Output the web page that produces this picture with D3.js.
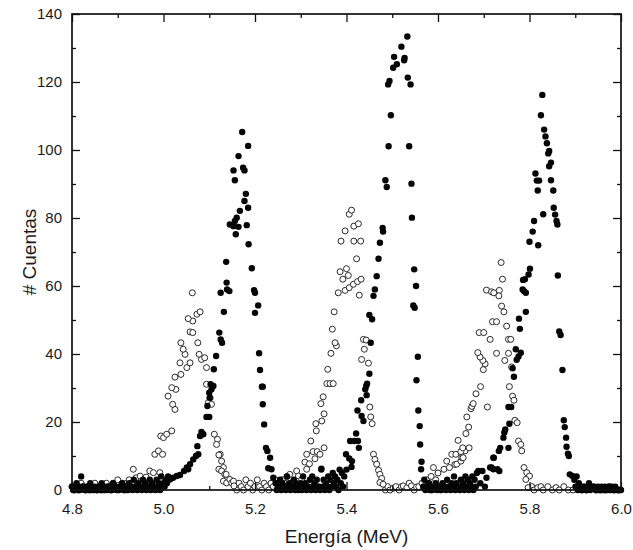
<!DOCTYPE html>
<html>
<head>
<meta charset="utf-8">
<script src="https://cdn.jsdelivr.net/npm/d3@7"></script>
<style>
  body { margin: 0; background: #fff; }
  svg { font-family: "Liberation Sans", Arial, sans-serif; }
  .tick text { font-size: 15px; fill: #1a1a1a; }
  .tick line { stroke: #111; stroke-width: 1.3; }
</style>
</head>
<body>
<svg width="633" height="550"></svg>
<script>
"use strict";

// energies (MeV) and counts
var filledBaseline = [
  [4.800,1],[4.805,0],[4.810,2],[4.815,1],[4.820,4],[4.825,1],[4.830,0],[4.835,1],[4.840,2],[4.845,0],
  [4.850,1],[4.855,0],[4.860,1],[4.865,2],[4.870,0],[4.875,1],[4.880,1],[4.885,0],[4.890,2],[4.895,1],
  [4.900,0],[4.905,1],[4.910,2],[4.915,1],[4.920,0],[4.925,2],[4.930,1],[4.935,3],[4.940,1],[4.945,2],
  [4.950,1],[4.955,3],[4.960,2],[4.965,1],[4.970,3],[4.975,2],[4.980,1],[4.985,3],[4.990,2],[4.995,4],
  [5.000,2],[5.005,3],[5.010,4],
  [5.245,2],[5.250,1],[5.255,3],[5.260,2],[5.265,1],[5.270,4],[5.275,2],[5.280,1],[5.285,3],[5.290,2],
  [5.295,0],[5.300,2],[5.305,4],[5.310,2],[5.315,1],[5.320,3],[5.325,4],[5.330,2],[5.335,3],[5.340,1],
  [5.345,6],[5.350,3],[5.355,2],[5.360,4],[5.365,3],[5.370,5],[5.375,4],[5.380,3],[5.385,6],[5.390,5],
  [5.395,4],[5.400,6],
  [5.570,3],[5.575,1],[5.580,2],[5.585,0],[5.590,1],[5.595,2],[5.600,1],[5.605,0],[5.610,2],[5.615,1],
  [5.620,3],[5.625,1],[5.630,2],[5.635,4],[5.640,2],[5.645,1],[5.650,3],[5.655,2],[5.660,4],[5.665,3],
  [5.670,2],[5.675,4],[5.680,3],[5.685,5],
  [5.898,3],[5.903,4],[5.908,2],[5.911,1],[5.915,0],[5.920,1],[5.925,0],[5.930,2],[5.935,1],[5.939,1],
  [5.945,0],[5.950,1],[5.955,0],[5.960,0],[5.965,1],[5.970,0],[5.975,0],[5.980,1],[5.985,0],[5.990,0],
  [5.995,0],[6.000,0]
];

// the low channels in between, which make the dark band along the axis
var filledFloor = [
  [4.8025,0],[4.8075,1],[4.8125,0],[4.8175,0],[4.8225,1],[4.8275,0],[4.8325,1],[4.8375,0],[4.8425,1],[4.8475,0],
  [4.8525,0],[4.8575,1],[4.8625,0],[4.8675,1],[4.8725,0],[4.8775,0],[4.8825,1],[4.8875,0],[4.8925,1],[4.8975,0],
  [4.9025,0],[4.9075,1],[4.9125,0],[4.9175,1],[4.9225,0],[4.9275,1],[4.9325,0],[4.9375,1],[4.9425,0],[4.9475,1],
  [4.9525,0],[4.9575,1],[4.9625,0],[4.9675,1],[4.9725,0],[4.9775,1],[4.9825,0],[4.9875,1],[4.9925,0],[4.9975,1],
  [5.0025,1],[5.0075,2],
  [5.2475,0],[5.2525,1],[5.2575,0],[5.2625,1],[5.2675,0],[5.2725,1],[5.2775,0],[5.2825,1],[5.2875,0],[5.2925,1],
  [5.2975,1],[5.3025,0],[5.3075,1],[5.3125,0],[5.3175,1],[5.3225,0],[5.3275,1],[5.3325,0],[5.3375,1],[5.3425,0],
  [5.3475,1],[5.3525,0],[5.3575,1],[5.3625,0],[5.3675,1],[5.3725,2],[5.3775,1],[5.3825,0],[5.3875,2],[5.3925,1],
  [5.5675,1],[5.5725,0],[5.5775,1],[5.5825,0],[5.5875,0],[5.5925,1],[5.5975,0],[5.6025,1],[5.6075,0],[5.6125,1],
  [5.6175,0],[5.6225,1],[5.6275,0],[5.6325,1],[5.6375,0],[5.6425,1],[5.6475,0],[5.6525,1],[5.6575,0],[5.6625,1],
  [5.6675,0],[5.6725,1],[5.6775,0],[5.6825,1],[5.6925,2],[5.7025,1],
  [5.9005,1],[5.9055,0],[5.9125,0],[5.9175,1],[5.9225,0],[5.9275,1],[5.9325,0],[5.9425,1],[5.9475,0],[5.9525,0],
  [5.9575,1],[5.9625,0],[5.9675,0],[5.9725,1],[5.9775,0],[5.9825,0],[5.9875,1],[5.9925,0],[5.9975,0]
];

var filledPeaks = [
  [5.014,3.1],[5.021,3.6],[5.029,4.1],[5.036,4.4],[5.045,5.6],[5.051,6.6],[5.054,6.1],[5.058,7.6],
  [5.065,9.0],[5.071,10.0],[5.074,12.9],[5.076,10.5],[5.080,15.9],[5.083,17.1],[5.087,16.4],[5.094,21.5],
  [5.096,24.7],[5.100,21.5],[5.100,28.6],[5.101,27.1],[5.103,31.1],[5.105,29.6],[5.109,30.6],[5.110,35.5],
  [5.115,39.4],[5.122,46.3],[5.125,44.3],[5.128,43.3],[5.132,52.4],[5.125,58.0],[5.138,61.0],[5.139,59.0],
  [5.144,58.5],[5.137,67.1],[5.158,75.2],[5.145,78.1],[5.153,77.6],[5.164,77.4],[5.182,77.9],[5.156,79.1],
  [5.160,80.1],[5.167,82.1],[5.185,83.0],[5.177,85.0],[5.180,87.1],[5.186,72.3],[5.156,91.1],[5.153,94.0],
  [5.174,94.8],[5.177,94.0],[5.164,98.2],[5.185,101.2],[5.172,105.3],
  [5.193,65.2],[5.198,58.8],[5.200,58.0],[5.207,54.3],[5.200,52.1],[5.209,40.2],[5.211,35.3],[5.215,30.4],
  [5.217,30.4],[5.217,25.2],[5.220,19.3],[5.224,12.4],[5.227,11.5],[5.229,6.4],[5.233,9.5],[5.236,6.1],
  [5.240,3.6],
  [5.345,6.3],[5.399,10.5],[5.406,9.3],[5.412,8.5],[5.411,6.8],[5.408,14.4],[5.417,14.4],[5.425,14.4],
  [5.421,16.6],[5.427,12.4],[5.424,23.4],[5.433,21.8],[5.437,20.3],[5.432,26.4],[5.441,29.6],[5.443,30.6],
  [5.444,27.9],[5.445,31.3],[5.450,34.2],[5.453,43.3],[5.450,51.5],[5.456,50.2],[5.459,57.1],[5.462,59.0],
  [5.466,62.9],[5.470,68.0],[5.473,72.7],[5.480,76.0],[5.479,77.1],[5.488,89.1],[5.485,91.1],[5.492,101.1],
  [5.497,110.2],[5.491,119.3],[5.494,120.3],[5.502,124.2],[5.510,125.2],[5.504,127.4],[5.520,130.4],[5.533,133.4],
  [5.527,127.1],[5.526,126.4],[5.534,121.3],[5.540,119.3],[5.537,101.1],[5.542,90.1],[5.543,80.1],[5.548,64.9],
  [5.552,60.0],[5.546,54.3],[5.549,53.6],[5.556,39.2],[5.553,32.3],[5.557,23.4],[5.560,18.8],[5.561,13.4],
  [5.564,8.3],[5.563,6.1],
  [5.688,5.6],[5.697,5.6],[5.706,3.6],[5.714,6.6],[5.717,6.6],[5.721,6.1],[5.721,9.5],[5.730,6.1],
  [5.734,5.6],[5.722,9.5],[5.733,11.5],[5.736,12.4],[5.754,12.4],[5.743,15.4],[5.745,16.9],[5.747,17.8],
  [5.756,19.5],[5.754,24.4],[5.760,24.4],[5.763,35.8],[5.766,33.3],[5.770,41.4],[5.772,38.3],[5.776,39.3],
  [5.781,40.4],[5.779,47.4],[5.777,50.4],[5.792,52.4],[5.785,59.0],[5.788,58.5],[5.792,58.0],[5.786,61.8],
  [5.790,62.0],[5.798,63.4],[5.801,65.1],[5.819,72.0],[5.800,73.0],[5.807,76.0],[5.810,79.1],[5.830,81.1],
  [5.818,88.1],[5.816,91.0],[5.821,91.0],[5.813,93.1],[5.825,110.2],[5.828,116.2],[5.832,106.0],[5.835,104.0],
  [5.838,102.0],[5.843,99.7],[5.841,99.0],[5.847,96.3],[5.843,95.2],[5.847,91.1],[5.852,88.1],[5.853,83.0],
  [5.856,81.0],[5.859,79.1],[5.861,78.1],[5.862,63.1],[5.865,46.6],[5.868,45.6],[5.872,35.3],[5.875,20.5],
  [5.877,18.5],[5.880,15.4],[5.881,12.7],[5.884,10.7],[5.886,10.0],[5.888,4.6],[5.894,4.1]
];

var openBaseline = [
  [4.800,1],[4.805,0],[4.810,1],[4.815,0],[4.820,2],[4.825,1],[4.830,0],[4.835,1],[4.840,0],[4.845,1],
  [4.850,2],[4.855,0],[4.860,1],[4.865,0],[4.870,1],[4.875,2],[4.880,1],[4.885,0],[4.890,2],[4.895,1],
  [4.900,3],[4.905,1],[4.910,2],[4.915,0],[4.920,2],[4.925,3],[4.930,2],
  [5.160,0],[5.165,2],[5.170,1],[5.175,0],[5.180,3],[5.185,1],[5.190,2],[5.195,0],[5.200,1],[5.205,3],
  [5.210,1],[5.215,0],[5.220,2],[5.225,1],[5.230,0],[5.235,2],[5.240,1],[5.245,3],[5.250,2],[5.255,1],
  [5.260,3],[5.265,2],[5.270,4],[5.276,4.6],[5.284,2.6],[5.291,5.6],[5.295,4.1],[5.302,3.1],
  [5.485,0],[5.490,1],[5.495,0],[5.502,0.5],[5.508,1],[5.515,0],[5.520,1],[5.524,1.2],[5.532,0.7],[5.537,2],
  [5.542,1.2],[5.548,0],[5.553,0.9],[5.558,1],[5.565,2],[5.570,1],[5.575,3],[5.580,2],[5.585,4],[5.590,6.6],
  [5.595,3],[5.600,5],
  [5.805,1],[5.810,0],[5.818,0.7],[5.825,1],[5.830,0],[5.840,1],[5.850,0],[5.858,0.7],[5.865,0],[5.875,1],
  [5.885,0],[5.895,0],[5.905,1],[5.915,0],[5.925,0],[5.935,1],[5.945,0],[5.955,0],[5.965,0],[5.975,1],
  [5.985,0],[5.995,0]
];

var openPeaks = [
  [4.934,6.1],[4.940,3.6],[4.949,4.1],[4.962,3.8],[4.970,5.6],[4.978,5.1],[4.981,10.5],[4.989,11.5],
  [4.992,5.1],[4.998,10.5],[4.994,15.9],[5.000,15.4],[5.007,16.4],[5.018,17.4],[5.025,23.7],[5.020,25.2],
  [5.010,27.6],[5.027,29.6],[5.018,30.1],[5.025,33.2],[5.038,34.0],[5.036,37.4],[5.051,36.0],[5.058,37.4],
  [5.047,39.9],[5.043,41.4],[5.038,43.3],[5.075,43.3],[5.058,46.5],[5.064,46.3],[5.064,49.7],[5.054,50.4],
  [5.073,51.7],[5.080,52.4],[5.063,58.0],[5.078,39.9],[5.083,38.4],[5.090,38.9],[5.094,36.0],[5.094,31.1],
  [5.102,27.1],[5.098,25.7],[5.105,25.2],[5.111,16.4],[5.118,14.9],[5.116,13.4],[5.124,10.5],[5.121,10.3],
  [5.127,8.5],[5.131,6.6],[5.121,6.1],[5.127,5.6],[5.134,4.6],[5.137,4.6],[5.131,2.6],[5.138,2.1],
  [5.145,3.1],[5.149,2.1],[5.153,2.6],[5.154,1.2],
  [5.309,8.2],[5.313,6.1],[5.313,10.5],[5.319,7.7],[5.322,14.4],[5.327,11.3],[5.331,9.2],[5.336,11.3],
  [5.342,10.5],[5.351,12.4],[5.333,19.5],[5.334,17.4],[5.346,20.3],[5.351,22.4],[5.344,25.4],[5.349,27.4],
  [5.357,31.3],[5.364,31.3],[5.371,31.3],[5.359,35.5],[5.366,40.2],[5.378,42.4],[5.375,43.3],[5.369,47.3],
  [5.373,52.4],[5.382,58.0],[5.397,58.7],[5.406,59.5],[5.415,60.5],[5.424,61.3],[5.432,62.0],[5.392,62.0],
  [5.404,63.1],[5.386,64.2],[5.400,65.1],[5.428,57.3],[5.422,68.0],[5.388,73.2],[5.416,73.2],[5.431,73.2],
  [5.397,76.2],[5.416,77.6],[5.426,78.3],[5.406,81.1],[5.411,82.3],[5.437,44.3],[5.443,44.1],[5.439,41.4],
  [5.433,38.4],[5.448,37.3],[5.451,24.4],[5.453,21.5],[5.456,19.5],[5.459,10.5],[5.462,9.0],[5.466,7.6],
  [5.470,5.8],[5.473,4.6],[5.477,3.4],[5.473,2.2],[5.480,1.7],
  [5.613,6.1],[5.619,8.5],[5.625,6.6],[5.630,10.5],[5.637,7.5],[5.641,7.6],[5.650,8.5],[5.652,9.5],
  [5.655,9.5],[5.659,11.5],[5.639,10.5],[5.650,11.3],[5.654,12.4],[5.668,12.4],[5.644,14.6],[5.661,16.6],
  [5.667,18.5],[5.663,21.5],[5.672,23.9],[5.674,24.6],[5.677,25.4],[5.708,24.4],[5.683,28.3],[5.693,30.4],
  [5.699,35.4],[5.703,37.1],[5.698,38.1],[5.692,39.1],[5.687,40.4],[5.728,40.2],[5.714,44.3],[5.690,46.3],
  [5.700,46.3],[5.719,49.5],[5.728,49.5],[5.706,58.8],[5.717,58.3],[5.722,58.0],[5.734,58.7],[5.733,57.1],
  [5.739,54.1],[5.744,52.4],[5.741,62.0],[5.738,66.9],[5.750,48.2],[5.754,44.3],[5.759,44.3],[5.754,40.2],
  [5.746,38.1],[5.761,36.2],[5.756,30.4],[5.763,27.6],[5.766,26.4],[5.768,20.5],[5.773,19.8],[5.776,14.4],
  [5.781,13.4],[5.783,11.5],[5.788,6.6],[5.794,5.1],[5.800,4.1],[5.792,3.1],[5.797,0.7]
];

var xTicks = [4.8, 5.0, 5.2, 5.4, 5.6, 5.8, 6.0];
var xMinor = [4.9, 5.1, 5.3, 5.5, 5.7, 5.9];
var yTicks = [0, 20, 40, 60, 80, 100, 120, 140];
var yMinor = [10, 30, 50, 70, 90, 110, 130];

var svg = d3.select("svg");
var margin = { top: 14, right: 12, bottom: 60, left: 72 },
  width = 633 - margin.left - margin.right,
  height = 550 - margin.top - margin.bottom;

var g = svg.append("g")
  .attr("transform", "translate(" + margin.left + "," + margin.top + ")");

var x = d3.scaleLinear().domain([4.8, 6.0]).range([0, width]);
var y = d3.scaleLinear().domain([0, 140]).range([height, 0]);

// open circles first, filled on top
g.append("g")
  .selectAll("circle")
  .data(openBaseline.concat(openPeaks))
  .enter().append("circle")
  .attr("cx", function (d) { return x(d[0]); })
  .attr("cy", function (d) { return y(d[1]); })
  .attr("r", 3)
  .attr("fill", "#fff")
  .attr("stroke", "#2a2a2a")
  .attr("stroke-width", 1);

g.append("g")
  .selectAll("circle")
  .data(filledFloor.concat(filledBaseline, filledPeaks))
  .enter().append("circle")
  .attr("cx", function (d) { return x(d[0]); })
  .attr("cy", function (d) { return y(d[1]); })
  .attr("r", 3.2)
  .attr("fill", "#050505");

function fmt(d) { return d.toFixed(1); }

// major and minor ticks, pointing inward on all four sides
g.append("g")
  .attr("transform", "translate(0," + height + ")")
  .call(d3.axisBottom(x).tickValues(xTicks).tickFormat(fmt).tickSize(-8).tickPadding(13));
g.append("g")
  .attr("transform", "translate(0," + height + ")")
  .call(d3.axisBottom(x).tickValues(xMinor).tickFormat("").tickSize(-4));
g.append("g")
  .call(d3.axisTop(x).tickValues(xTicks).tickFormat("").tickSize(-8));
g.append("g")
  .call(d3.axisTop(x).tickValues(xMinor).tickFormat("").tickSize(-4));

g.append("g")
  .call(d3.axisLeft(y).tickValues(yTicks).tickSize(-8).tickPadding(10));
g.append("g")
  .call(d3.axisLeft(y).tickValues(yMinor).tickFormat("").tickSize(-4));
g.append("g")
  .attr("transform", "translate(" + width + ",0)")
  .call(d3.axisRight(y).tickValues(yTicks).tickFormat("").tickSize(-8));
g.append("g")
  .attr("transform", "translate(" + width + ",0)")
  .call(d3.axisRight(y).tickValues(yMinor).tickFormat("").tickSize(-4));

g.selectAll(".domain").remove();

g.append("rect")
  .attr("width", width)
  .attr("height", height)
  .attr("fill", "none")
  .attr("stroke", "#111")
  .attr("stroke-width", 1.7);

svg.append("text")
  .attr("x", margin.left + width / 2)
  .attr("y", 543)
  .attr("text-anchor", "middle")
  .style("font-size", "19px")
  .style("fill", "#1a1a1a")
  .text("Energía (MeV)");

svg.append("text")
  .attr("transform", "translate(36," + (margin.top + height / 2) + ") rotate(-90)")
  .attr("text-anchor", "middle")
  .style("font-size", "19px")
  .style("fill", "#1a1a1a")
  .text("# Cuentas");
</script>
</body>
</html>
